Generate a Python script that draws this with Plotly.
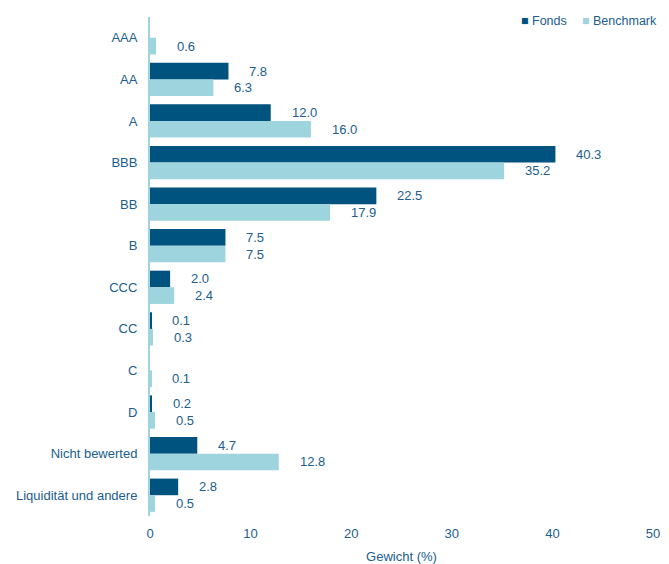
import plotly.graph_objects as go

categories = ["AAA", "AA", "A", "BBB", "BB", "B", "CCC", "CC", "C", "D",
              "Nicht bewerted", "Liquidität und andere"]
fonds = [None, 7.8, 12.0, 40.3, 22.5, 7.5, 2.0, 0.1, None, 0.2, 4.7, 2.8]
benchmark = [0.6, 6.3, 16.0, 35.2, 17.9, 7.5, 2.4, 0.3, 0.1, 0.5, 12.8, 0.5]
x_ticks = [0, 10, 20, 30, 40, 50]
series_names = ["Fonds", "Benchmark"]

FONDS_C = "#00527f"
BENCH_C = "#9dd4de"
TEXT_C = "#215d8e"
FONT = "Liberation Sans, Arial, sans-serif"

W, H = 653, 556          # page body has an 8px margin
M = dict(l=141.5, r=7.5, t=8.5, b=47.5)

fig = go.Figure()
fig.add_trace(go.Bar(y=categories, x=fonds, orientation="h", name=series_names[0],
                     marker=dict(color=FONDS_C, line=dict(width=0)), showlegend=False))
fig.add_trace(go.Bar(y=categories, x=benchmark, orientation="h", name=series_names[1],
                     marker=dict(color=BENCH_C, line=dict(width=0)), showlegend=False))

plot_w = W - M["l"] - M["r"]
plot_h = H - M["t"] - M["b"]
band = plot_h / len(categories)
bargap = 0.2
off = (1 - bargap) / 4 * band

for cat, v in zip(categories, fonds):
    if v is not None:
        fig.add_annotation(x=v, y=cat, text=f"{v:.1f}", showarrow=False,
                           xanchor="left", xshift=19, yshift=off,
                           font=dict(size=13, color=TEXT_C, family=FONT))
for cat, v in zip(categories, benchmark):
    fig.add_annotation(x=v, y=cat, text=f"{v:.1f}", showarrow=False,
                       xanchor="left", xshift=19, yshift=-off,
                       font=dict(size=13, color=TEXT_C, family=FONT))

# compact legend (small square swatches), right-aligned entries
legend_right_px = [561 - M["l"], 652 - M["l"]]
legend_cols = [FONDS_C, BENCH_C]
for name, col, rpx in zip(series_names, legend_cols, legend_right_px):
    fig.add_annotation(xref="paper", yref="paper", x=rpx / plot_w, y=1,
                       xanchor="right", yanchor="middle", yshift=-4.2,
                       text=f'<span style="color:{col}">■</span> {name}',
                       showarrow=False, font=dict(size=12.5, color=TEXT_C, family=FONT))

fig.update_layout(
    width=W, height=H,
    margin=dict(**M, autoexpand=False),
    paper_bgcolor="white", plot_bgcolor="white",
    barmode="group", bargap=bargap, bargroupgap=0,
    font=dict(family=FONT, size=13, color=TEXT_C),
    showlegend=False,
    xaxis=dict(range=[0, 50], tickvals=x_ticks, showgrid=False, zeroline=False,
               showline=False, ticks="", ticklabelstandoff=8,
               tickfont=dict(size=13, color=TEXT_C),
               title=dict(text="Gewicht (%)", font=dict(size=13, color=TEXT_C), standoff=11)),
    yaxis=dict(autorange="reversed", showgrid=False, zeroline=False,
               showline=True, linecolor=BENCH_C, linewidth=2, ticks="",
               ticklabelstandoff=8, tickfont=dict(size=13, color=TEXT_C)),
)

fig.write_html("out.html")
